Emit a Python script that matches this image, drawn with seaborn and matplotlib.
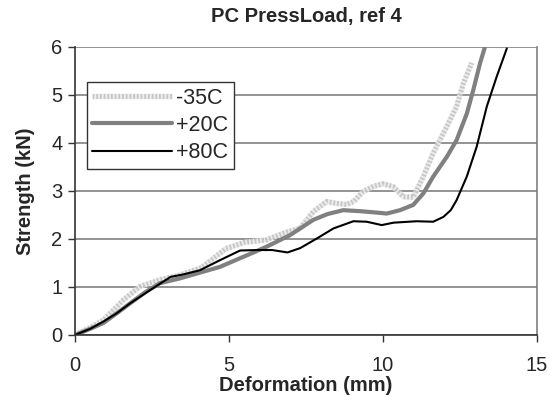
import matplotlib
matplotlib.use("Agg")
import matplotlib.pyplot as plt
import seaborn as sns
import pandas as pd

title = "PC PressLoad, ref 4"
x_label = "Deformation (mm)"
y_label = "Strength (kN)"
series_names = ["-35C", "+20C", "+80C"]

neg35_x = [0, 0.45, 0.92, 1.25, 1.57, 2.11, 2.76, 3.41, 4.1, 4.9, 5.5, 6.2, 6.9, 7.3, 7.74, 8.17, 8.5, 8.82,
           9.05, 9.36, 9.7, 10.01, 10.33, 10.66, 10.98, 11.31, 11.63, 12.07, 12.39, 12.61, 12.88]
neg35_y = [0, 0.14, 0.31, 0.52, 0.73, 1.01, 1.15, 1.25, 1.4, 1.8, 1.93, 1.98, 2.15, 2.22, 2.57, 2.78, 2.74, 2.72,
           2.78, 2.99, 3.1, 3.15, 3.09, 2.88, 2.87, 3.30, 3.79, 4.34, 4.76, 5.24, 5.67]

pos20_x = [0, 0.5, 0.92, 1.35, 1.79, 2.3, 2.76, 3.41, 4.06, 4.71, 5.36, 5.8, 6.22, 6.98, 7.74, 8.2, 8.71, 9.25,
           9.8, 10.12, 10.55, 10.98, 11.31, 11.63, 12.07, 12.39, 12.72, 12.93, 13.15, 13.31]
pos20_y = [0, 0.13, 0.25, 0.45, 0.66, 0.9, 1.08, 1.18, 1.3, 1.42, 1.6, 1.72, 1.84, 2.08, 2.40, 2.52, 2.6, 2.58,
           2.55, 2.53, 2.6, 2.71, 2.95, 3.30, 3.71, 4.06, 4.61, 5.10, 5.66, 6.0]

pos80_x = [0, 0.5, 0.92, 1.35, 1.79, 2.45, 3.1, 3.5, 4.06, 4.71, 5.36, 5.9, 6.4, 6.9, 7.31, 7.85, 8.39, 9.04,
           9.47, 9.96, 10.34, 11.09, 11.63, 11.96, 12.2, 12.39, 12.72, 13.04, 13.37, 13.69, 14.02]
pos80_y = [0, 0.13, 0.28, 0.45, 0.66, 0.94, 1.21, 1.26, 1.35, 1.56, 1.76, 1.77, 1.77, 1.72, 1.81, 2.01, 2.22, 2.37,
           2.36, 2.29, 2.34, 2.37, 2.36, 2.46, 2.6, 2.81, 3.30, 3.92, 4.76, 5.38, 5.97]

x_ticks = [0, 5, 10, 15]
y_ticks = [0, 1, 2, 3, 4, 5, 6]

sns.set_style("white")
plt.rcParams["font.family"] = ["Liberation Sans", "DejaVu Sans"]

fig = plt.figure(figsize=(5.53, 4.01), dpi=100)
ax = fig.add_axes([75 / 553, 1 - 335 / 401, 462 / 553, 288 / 401])

styles = [
    dict(color="#c6c6c6", linewidth=3.8, linestyle=(0, (0.35, 0.35)), gapcolor="#ebebeb"),
    dict(color="#808080", linewidth=3.0),
    dict(color="#000000", linewidth=1.5),
]
datasets = [(neg35_x, neg35_y), (pos20_x, pos20_y), (pos80_x, pos80_y)]
for name, (xs, ys), st in zip(series_names, datasets, styles):
    df = pd.DataFrame({"x": xs, "y": ys})
    sns.lineplot(data=df, x="x", y="y", ax=ax, label=name, sort=False,
                 estimator=None, solid_capstyle="round", solid_joinstyle="round", **st)

ax.set_xlim(0, 15)
ax.set_ylim(0, 6)
ax.set_xticks(x_ticks)
ax.set_yticks(y_ticks)
ax.yaxis.grid(True, color="#808080", linewidth=1.2)
ax.xaxis.grid(False)
ax.set_axisbelow(True)

for s in ["left", "bottom"]:
    ax.spines[s].set_color("#333333")
    ax.spines[s].set_linewidth(1.2)
ax.spines["right"].set_color("#808080")
ax.spines["right"].set_linewidth(1.2)
ax.spines["top"].set_visible(False)

ax.tick_params(axis="both", which="major", direction="out", length=5, width=1,
               color="#333333", labelsize=14.5, pad=4, bottom=True, left=True)
ax.tick_params(axis="x", pad=10)

ax.set_title(title, fontsize=14.5, fontweight="bold", pad=18)
ax.set_xlabel(x_label, fontsize=14.5, fontweight="bold", labelpad=1)
ax.set_ylabel(y_label, fontsize=14.5, fontweight="bold", labelpad=12)

leg = ax.legend(loc="upper left", bbox_to_anchor=(0.026, 0.878), borderaxespad=0,
                fontsize=15.5, frameon=True, fancybox=False, handlelength=3.7,
                handletextpad=0.2, labelspacing=0.3, borderpad=0.25)
leg.get_frame().set_edgecolor("#333333")
leg.get_frame().set_linewidth(1.0)
leg.get_frame().set_alpha(1)

fig.savefig("out.png", dpi=100)
